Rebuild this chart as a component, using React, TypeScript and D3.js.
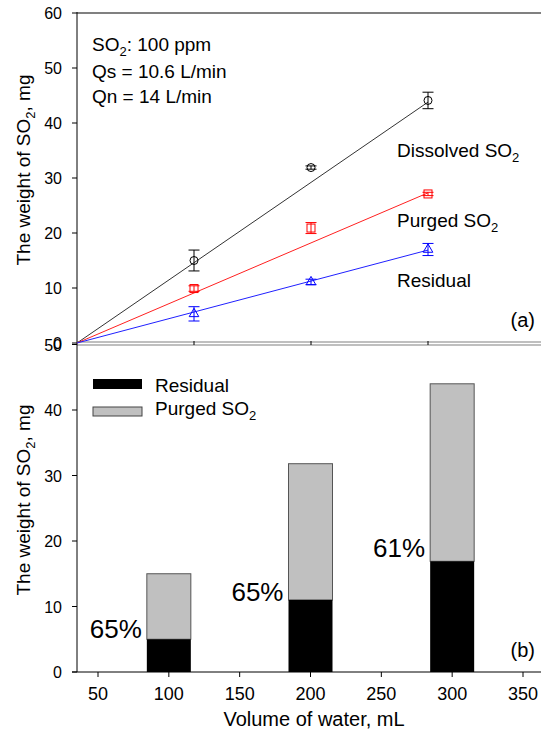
import React from "react";
import * as d3 from "d3";

// ---------- data ----------
const volumes = [100, 200, 300];
const dissolved = [15.0, 31.9, 44.1];
const dissolvedErr = [1.9, 0.3, 1.5];
const purged = [9.9, 20.9, 27.1];
const purgedErr = [0.5, 1.0, 0.3];
const residual = [5.3, 11.1, 17.0];
const residualErr = [1.3, 0.5, 1.1];

const fitX = [0, 300];
const dissolvedFit = [0, 43.8];
const purgedFit = [0, 27.3];
const residualFit = [0, 16.9];

const barResidual = [5.0, 11.0, 16.9];
const barPurged = [10.0, 20.8, 27.1];
const percentLabels = ["65%", "65%", "61%"];

const topYTicks = [0, 10, 20, 30, 40, 50, 60];
const topXTicks = [100, 200, 300];
const botYTicks = [0, 10, 20, 30, 40, 50];
const botXTicks = [50, 100, 150, 200, 250, 300, 350];

const FONT = "'Liberation Sans', Arial, sans-serif";

export default function App() {
  const W = 541, H = 733;
  const left = 77;
  // top panel
  const xa = d3.scaleLinear().domain([0, 400]).range([left, left + 468]);
  const ya = d3.scaleLinear().domain([0, 60]).range([343, 13]);
  // bottom panel
  const xb = d3.scaleLinear().domain([50, 350]).range([98, 523]);
  const yb = d3.scaleLinear().domain([0, 50]).range([672, 344.5]);

  const line = (ys: number[]) =>
    d3.line<number>().x((_, i) => xa(fitX[i])).y((d) => ya(d))(ys) || "";

  const errBars = (vals: number[], errs: number[], color: string) =>
    vals.map((v, i) => {
      const x = xa(volumes[i]);
      const y1 = ya(v - errs[i]);
      const y2 = ya(v + errs[i]);
      return (
        <g key={"e" + color + i} stroke={color} strokeWidth={1}>
          <line x1={x} x2={x} y1={y1} y2={y2} />
          <line x1={x - 5.5} x2={x + 5.5} y1={y1} y2={y1} />
          <line x1={x - 5.5} x2={x + 5.5} y1={y2} y2={y2} />
        </g>
      );
    });

  const tri = d3.symbol().type(d3.symbolTriangle).size(40)() || "";

  const barW = 44;

  // label anchor heights (layout, in axis units)
  const pctY = [5.2, 10.8, 17.6];

  return (
    <svg width={W} height={H} style={{ position: "absolute", left: 0, top: 0 }} fontFamily={FONT}>
      <rect width={W} height={H} fill="white" />
      {/* ===== top panel ===== */}
      <line x1={left} x2={W} y1={13} y2={13} stroke="#808080" strokeWidth={2} />
      <line x1={left} x2={W} y1={342} y2={342} stroke="#808080" strokeWidth={1.2} />
      <line x1={left} x2={W} y1={345} y2={345} stroke="#808080" strokeWidth={1.2} />
      <line x1={left} x2={left} y1={12} y2={344} stroke="black" strokeWidth={1} />
      {topYTicks.map((t) => (
        <g key={"ta" + t}>
          <line x1={left - 5} x2={left} y1={ya(t)} y2={ya(t)} stroke="black" />
          <text x={62} y={ya(t) + 6} textAnchor="end" fontSize={16}>
            {t}
          </text>
        </g>
      ))}
      {topXTicks.map((t) => (
        <line key={"tx" + t} x1={xa(t)} x2={xa(t)} y1={341} y2={345} stroke="black" />
      ))}
      {/* fit lines */}
      <path d={line(dissolvedFit)} stroke="#333" fill="none" strokeWidth={1} />
      <path d={line(purgedFit)} stroke="#ff2020" fill="none" strokeWidth={1} />
      <path d={line(residualFit)} stroke="#2020ff" fill="none" strokeWidth={1} />
      {errBars(dissolved, dissolvedErr, "black")}
      {errBars(purged, purgedErr, "red")}
      {errBars(residual, residualErr, "blue")}
      {dissolved.map((v, i) => (
        <circle key={"c" + i} cx={xa(volumes[i])} cy={ya(v)} r={4} fill="none" stroke="black" />
      ))}
      {purged.map((v, i) => (
        <rect key={"s" + i} x={xa(volumes[i]) - 4} y={ya(v) - 4} width={8} height={8} fill="none" stroke="red" />
      ))}
      {residual.map((v, i) => (
        <path key={"t" + i} d={tri} transform={`translate(${xa(volumes[i])},${ya(v)})`} fill="none" stroke="blue" />
      ))}
      {/* annotations */}
      <text x={92} y={51} fontSize={19}>
        SO<tspan dy={5} fontSize={13}>2</tspan><tspan dy={-5}>: 100 ppm</tspan>
      </text>
      <text x={92} y={78} fontSize={19}>Qs = 10.6 L/min</text>
      <text x={92} y={103} fontSize={19}>Qn = 14 L/min</text>
      <text x={397} y={157} fontSize={19}>
        Dissolved SO<tspan dy={5} fontSize={13}>2</tspan>
      </text>
      <text x={397} y={227} fontSize={19}>
        Purged SO<tspan dy={5} fontSize={13}>2</tspan>
      </text>
      <text x={397} y={287} fontSize={19}>Residual</text>
      <text x={535} y={327} fontSize={20} textAnchor="end">(a)</text>
      <text transform="translate(30,170) rotate(-90)" textAnchor="middle" fontSize={19}>
        The weight of SO<tspan dy={5} fontSize={13}>2</tspan><tspan dy={-5}>, mg</tspan>
      </text>

      {/* ===== bottom panel ===== */}
      <line x1={left} x2={left} y1={344} y2={672} stroke="black" />
      <line x1={left - 5} x2={W} y1={672} y2={672} stroke="black" />
      {botYTicks.map((t) => (
        <g key={"ba" + t}>
          <line x1={left - 5} x2={left} y1={yb(t)} y2={yb(t)} stroke="black" />
          <text x={62} y={yb(t) + 6} textAnchor="end" fontSize={16}>
            {t}
          </text>
        </g>
      ))}
      {botXTicks.map((t) => (
        <g key={"bx" + t}>
          <line x1={xb(t)} x2={xb(t)} y1={672} y2={677} stroke="black" />
          <text x={xb(t)} y={700} textAnchor="middle" fontSize={18}>
            {t}
          </text>
        </g>
      ))}
      {volumes.map((v, i) => (
        <g key={"b" + i}>
          <rect
            x={xb(v) - barW / 2}
            y={yb(barResidual[i] + barPurged[i])}
            width={barW}
            height={yb(barResidual[i]) - yb(barResidual[i] + barPurged[i])}
            fill="#c0c0c0"
            stroke="#555"
            strokeWidth={1}
          />
          <rect
            x={xb(v) - barW / 2}
            y={yb(barResidual[i])}
            width={barW}
            height={yb(0) - yb(barResidual[i])}
            fill="black"
          />
          <text x={xb(v) - barW / 2 - 5} y={yb(pctY[i])} textAnchor="end" fontSize={26}>
            {percentLabels[i]}
          </text>
        </g>
      ))}
      {/* legend */}
      <rect x={93} y={379} width={49} height={10} fill="black" />
      <text x={155} y={392} fontSize={19}>Residual</text>
      <rect x={93} y={407} width={49} height={9} fill="#c0c0c0" stroke="#444" />
      <text x={155} y={415} fontSize={19}>
        Purged SO<tspan dy={5} fontSize={13}>2</tspan>
      </text>
      <text x={535} y={657} fontSize={20} textAnchor="end">(b)</text>
      <text transform="translate(30,500) rotate(-90)" textAnchor="middle" fontSize={19}>
        The weight of SO<tspan dy={5} fontSize={13}>2</tspan><tspan dy={-5}>, mg</tspan>
      </text>
      <text x={314} y={726} textAnchor="middle" fontSize={20}>Volume of water, mL</text>
    </svg>
  );
}
